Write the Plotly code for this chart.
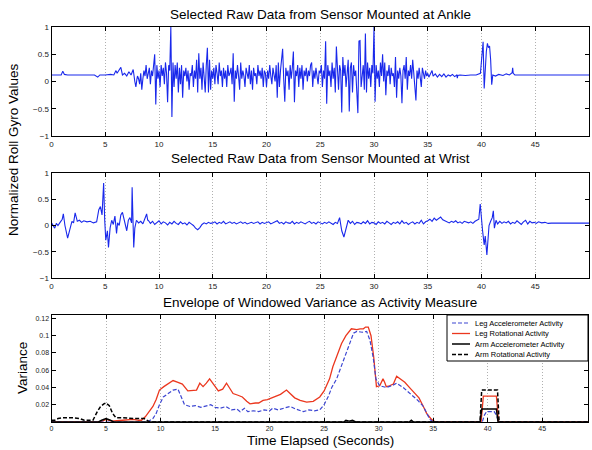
import plotly.graph_objects as go

# ---------------- DATA ----------------
# Ankle roll gyro (normalized) -- quiet start segment
ankle_t_a = [0, 0.5, 0.9, 1.05, 1.2, 1.5, 2.0, 2.5, 3.0, 3.5, 4.0, 4.3, 4.5, 5.0, 5.5,
             5.8, 6.0, 6.1, 6.3, 6.45, 6.6, 6.8, 7.0, 7.2, 7.4, 7.6, 7.75, 7.85, 7.95]
ankle_v_a = [0.12, 0.12, 0.12, 0.19, 0.13, 0.12, 0.12, 0.11, 0.12, 0.11, 0.12, 0.08, 0.12, 0.12, 0.13,
             0.12, 0.20, 0.15, 0.22, 0.26, 0.12, 0.15, 0.10, 0.18, 0.12, 0.22, 0.00, -0.10, 0.05]
# active segment, sampled every 0.1 s starting at 8.0 s
ankle_start_b = 8.0
ankle_step_b = 0.1
ankle_v_b = [
    0.10, 0.05, -0.05, 0.15, -0.15, 0.05, 0.20, 0.10, 0.30, 0.05,
    0.15, 0.25, -0.05, 0.20, 0.10, 0.35, 0.50, -0.42, 0.30, 0.05,
    0.20, -0.10, 0.30, 0.10, 0.25, -0.05, 0.35, 0.15, -0.38, 0.30,
    0.20, 1.00, -0.65, 0.35, -0.10, 0.30, 0.05, 0.35, -0.20, 0.25,
    -0.05, 0.30, -0.30, 0.20, 0.10, 0.25, 0.00, 0.20, -0.15, 0.15,
    0.10, 0.30, -0.10, 0.20, 0.05, 0.40, -0.20, 0.52, 0.05, 0.25,
    -0.15, 0.35, 0.10, -0.20, 0.30, 0.62, -0.20, 0.40, -0.15, 0.20,
    0.05, 0.25, -0.05, 0.30, 0.15, -0.05, 0.35, 0.10, 0.20, -0.10,
    0.25, 0.05, 0.20, -0.10, 0.30, 0.10, 0.15, 0.25, -0.05, 0.52,
    -0.37, 0.20, 0.05, 0.30, 0.10, -0.15, 0.35, 0.05, 0.20, 0.10,
    -0.10, 0.25, 0.15, 0.05, 0.30, -0.05, 0.20, -0.15, 0.25, 0.10,
    0.15, -0.05, 0.30, 0.10, 0.20, 0.05, 0.25, -0.10, 0.20, 0.15,
    -0.10, 0.20, 0.05, 0.30, 0.10, -0.05, 0.25, 0.15, 0.00, 0.30,
    -0.30, 0.35, -0.10, 0.20, 0.40, 0.60, 0.05, -0.37, 0.25, 0.10,
    0.20, -0.15, 0.30, 0.05, 0.25, 0.55, -0.38, 0.20, 0.10, 0.30,
    -0.10, 0.25, 0.05, 0.30, -0.15, 0.20, 0.10, 0.25, 0.00, 0.20,
    0.10, 0.30, 0.35, -0.10, 0.20, 0.05, 0.25, 0.10, -0.05, 0.20,
    0.15, 0.30, -0.10, 0.20, 0.05, 0.74, -0.41, 0.30, 0.10, 0.20,
    -0.10, 0.35, 0.05, 0.25, -0.20, 0.64, 0.10, -0.15, 0.30, 0.20,
    -0.57, 0.45, 0.10, 0.30, -0.10, 0.20, 0.40, -0.55, 0.25, 0.35,
    -0.20, 0.30, 0.10, 0.20, -0.30, -0.58, 0.74, 0.75, -0.10, 0.20,
    0.30, -0.15, 0.88, -0.20, 0.35, 0.05, 0.25, -0.10, 0.30, 0.15,
    1.00, -0.37, 0.30, 0.05, 0.20, -0.10, 0.35, 0.10, 0.50, 0.00,
    0.35, -0.25, 0.20, 0.10, 0.30, -0.05, 0.25, 0.10, 0.15, -0.10,
    0.45, -0.30, 0.20, 0.05, 0.25, 0.10, -0.40, 0.20, 0.30, 0.05,
    0.45, -0.15, 0.20, 0.10, 0.30, 0.05, 0.40, 0.15, -0.05, -0.35,
    0.20, 0.05, 0.25, 0.10, -0.10, 0.25, 0.15, 0.05, 0.20, 0.10,
    0.15]
ankle_t_c = [35.1, 35.3, 35.4, 35.5, 35.7, 35.9, 36.1, 36.3, 36.5, 36.7, 36.9, 37.1, 37.3, 37.5, 37.7,
             37.75, 37.8, 38.0, 38.5, 39.0, 39.5, 39.9, 40.05, 40.15, 40.25, 40.35, 40.45, 40.55, 40.65, 40.75,
             40.85, 40.95, 41.05, 41.3, 41.6, 42.0, 42.3, 42.6, 42.85, 42.9, 42.95, 43.1, 43.5, 44.0, 50.0]
ankle_v_c = [0.08, 0.16, 0.20, 0.10, 0.14, 0.08, 0.13, 0.09, 0.14, 0.08, 0.12, 0.10, 0.13, 0.09, 0.12,
             0.06, 0.11, 0.12, 0.11, 0.12, 0.12, 0.15, 0.55, 0.73, -0.13, 0.30, 0.55, 0.70, 0.62, 0.65,
             0.40, -0.06, 0.12, 0.10, 0.13, 0.11, 0.14, 0.12, 0.16, 0.25, 0.15, 0.12, 0.12, 0.12, 0.12]

# Wrist roll gyro (normalized)
wrist_t_a = [0.0, 0.15, 0.3, 0.45, 0.6, 0.8, 1.0, 1.1, 1.25, 1.5, 1.7, 1.9, 2.05, 2.2, 2.4,
             2.6, 2.8, 3.0, 3.3, 3.6, 3.9, 4.2, 4.4, 4.55, 4.7, 4.85, 4.95, 5.05, 5.2, 5.3,
             5.45, 5.6, 5.75, 5.9, 6.05, 6.15, 6.3, 6.45, 6.6, 6.8, 7.0, 7.15, 7.3, 7.45, 7.5,
             7.58, 7.65, 7.75, 7.9, 8.1, 8.3, 8.5, 8.7, 8.85, 8.95]
wrist_v_a = [0.05, 0.00, -0.05, 0.04, 0.00, 0.06, 0.12, 0.22, 0.00, -0.24, -0.05, 0.08, 0.05, 0.24, 0.08,
             0.10, 0.06, 0.09, 0.07, 0.08, 0.05, 0.07, 0.30, 0.36, 0.20, 0.81, 0.10, -0.28, -0.10, -0.42,
             -0.05, 0.10, 0.02, 0.18, -0.15, 0.05, 0.00, 0.20, 0.25, 0.05, -0.10, 0.10, 0.15, 0.05, 0.73,
             0.10, -0.42, -0.05, 0.10, 0.05, 0.08, 0.03, 0.12, 0.22, 0.10]
wrist_start_b = 9.0
wrist_step_b = 0.2
wrist_v_b = [
    0.10, 0.04, 0.08, 0.02, 0.06, 0.09, 0.03, 0.07, 0.05, 0.01,
    0.06, 0.03, 0.08, 0.04, 0.02, 0.07, 0.03, 0.05, 0.01, 0.06,
    0.03, 0.00, -0.05, -0.08, -0.04, 0.02, 0.05, 0.03, 0.06, 0.04,
    0.05, 0.07, 0.03, 0.06, 0.04, 0.08, 0.03, 0.05, 0.07, 0.04,
    0.06, 0.03, 0.05, 0.07, 0.04, 0.06, 0.03, 0.05, 0.06, 0.04,
    0.05, 0.07, 0.03, 0.06, 0.04, 0.05, 0.07, 0.03, 0.05, 0.06,
    0.09, 0.04, 0.06, 0.03, 0.07, 0.05, 0.04, 0.08, 0.03, 0.06,
    0.04, 0.07, 0.05, 0.03, 0.06, 0.08, 0.04, 0.06, 0.03, 0.07,
    0.05, 0.03, 0.06, 0.04, 0.07, 0.05, 0.02, 0.06, 0.04, 0.15,
    -0.10, -0.22, -0.05, 0.10, 0.04, 0.08, 0.02, 0.06, 0.05, 0.03,
    0.07, 0.04, 0.09, 0.03, 0.06, 0.05, 0.02, 0.07, 0.04, 0.06,
    0.03, 0.08, 0.05, 0.02, 0.06, 0.04, 0.07, 0.03, 0.09, 0.04,
    0.06, 0.02, 0.05, 0.07, 0.03, 0.06, 0.04, 0.10, 0.03, 0.07,
    0.09, 0.12, 0.08, 0.14, 0.10, 0.13, 0.16, 0.11, 0.09, 0.07,
    0.05, 0.08, 0.06, 0.09, 0.05, 0.07, 0.04, 0.08, 0.06, 0.05,
    0.07, 0.04, 0.08, 0.10]
wrist_t_c = [39.75, 39.88, 40.0, 40.1, 40.25, 40.35, 40.5, 40.6, 40.7, 40.85, 41.0, 41.1, 41.2, 41.35, 41.5,
             41.7, 41.9, 42.1, 42.3, 42.5, 42.7, 42.9, 43.1, 43.3, 43.5, 43.7, 43.9, 44.1, 44.3, 44.5,
             44.7, 44.9, 45.1, 45.3, 45.6, 45.9, 46.2, 46.5, 50.0]
wrist_v_c = [0.12, 0.41, 0.05, -0.10, -0.37, -0.20, -0.56, -0.25, 0.00, 0.08, 0.15, 0.28, -0.05, 0.10, 0.03,
             0.08, 0.04, 0.07, 0.05, 0.08, 0.03, 0.06, 0.04, 0.09, 0.05, 0.02, 0.07, 0.10, 0.03, 0.08,
             0.05, 0.06, 0.04, 0.07, 0.05, 0.06, 0.04, 0.045, 0.045]

# Envelope of windowed variance
leg_rot_t = [0, 4.5, 5.0, 5.5, 6.5, 7.5, 8.0, 8.25, 8.6, 9.0, 9.3, 9.6, 9.9, 10.3, 10.7,
             11.15, 11.6, 12.0, 12.5, 13.0, 13.3, 13.6, 13.9, 14.2, 14.5, 14.9, 15.3, 15.7, 16.05, 16.3,
             16.65, 17.1, 17.5, 17.9, 18.2, 18.7, 19.0, 19.4, 19.8, 20.2, 20.65, 21.0, 21.55, 21.9, 22.3,
             22.8, 23.4, 24.0, 24.6, 25.0, 25.2, 25.5, 25.8, 26.2, 26.6, 27.0, 27.5, 28.0, 28.3, 28.6,
             28.8, 29.05, 29.3, 29.55, 29.8, 30.1, 30.4, 30.55, 30.7, 31.0, 31.35, 31.65, 32.0, 32.4, 32.9,
             33.3, 33.7, 34.1, 34.4, 34.85, 35.2, 39.4, 39.6, 39.75, 40.6, 40.8, 41.0, 49.2]
leg_rot_v = [0.0, 0.0, 0.003, 0.001, 0.002, 0.003, 0.002, 0.002, 0.006, 0.013, 0.018, 0.026, 0.037, 0.041, 0.044,
             0.048, 0.046, 0.044, 0.036, 0.037, 0.037, 0.045, 0.041, 0.045, 0.050, 0.043, 0.036, 0.038, 0.045, 0.040,
             0.033, 0.031, 0.029, 0.024, 0.021, 0.022, 0.022, 0.025, 0.026, 0.028, 0.030, 0.032, 0.037, 0.033, 0.028,
             0.025, 0.023, 0.024, 0.029, 0.036, 0.041, 0.050, 0.064, 0.078, 0.091, 0.100, 0.108, 0.107, 0.108, 0.108,
             0.110, 0.110, 0.100, 0.075, 0.041, 0.042, 0.050, 0.046, 0.041, 0.042, 0.044, 0.053, 0.050, 0.046, 0.039,
             0.034, 0.028, 0.018, 0.010, 0.003, 0.0, 0.0, 0.030, 0.030, 0.030, 0.030, 0.0, 0.0]
leg_acc_t = [0, 8.8, 9.3, 9.6, 9.9, 10.25, 10.7, 11.15, 11.6, 11.85, 12.2, 12.7, 13.2, 13.7, 14.2,
             14.6, 15.0, 15.5, 16.0, 16.5, 17.0, 17.3, 17.7, 18.0, 18.5, 19.0, 19.5, 20.0, 20.3, 20.8,
             21.3, 21.9, 22.4, 23.1, 23.6, 24.1, 24.6, 25.0, 25.4, 25.7, 26.15, 26.75, 27.35, 27.7, 28.0,
             28.5, 28.9, 29.2, 29.5, 29.75, 30.1, 30.7, 31.2, 31.65, 32.25, 33.0, 33.6, 34.1, 34.7, 35.0,
             39.5, 39.7, 39.9, 40.6, 40.8, 41.0, 49.2]
leg_acc_v = [0, 0, 0.004, 0.010, 0.020, 0.029, 0.033, 0.037, 0.038, 0.030, 0.020, 0.018, 0.019, 0.017, 0.019,
             0.020, 0.017, 0.016, 0.018, 0.014, 0.015, 0.012, 0.016, 0.012, 0.013, 0.012, 0.014, 0.013, 0.016, 0.014,
             0.016, 0.018, 0.015, 0.012, 0.014, 0.013, 0.014, 0.020, 0.030, 0.040, 0.050, 0.070, 0.090, 0.103, 0.105,
             0.104, 0.105, 0.095, 0.075, 0.050, 0.042, 0.040, 0.042, 0.045, 0.040, 0.032, 0.025, 0.018, 0.003, 0.0,
             0.0, 0.008, 0.012, 0.012, 0.008, 0.0, 0.0]
arm_acc_t = [0, 4.3, 4.6, 5.0, 5.4, 5.7, 8.0, 26.8, 27.0, 27.3, 27.6, 27.9, 32.8, 33.0, 33.2,
             39.3, 39.45, 40.8, 40.95, 49.2]
arm_acc_v = [0, 0, 0.002, 0.004, 0.002, 0, 0, 0, 0.002, 0.001, 0.002, 0, 0, 0.002, 0,
             0, 0.015, 0.015, 0, 0]
arm_rot_t = [0, 0.3, 0.6, 1.0, 2.0, 2.6, 3.0, 3.8, 4.2, 4.5, 4.8, 5.0, 5.3, 5.6, 5.9,
             6.5, 7.5, 8.5, 9.0, 39.3, 39.45, 40.9, 41.05, 49.2]
arm_rot_v = [0.002, 0.002, 0.004, 0.005, 0.005, 0.004, 0.002, 0.002, 0.012, 0.018, 0.021, 0.022, 0.019, 0.010, 0.005,
             0.005, 0.004, 0.004, 0.0, 0.0, 0.037, 0.037, 0.0, 0.0]

legend_labels = ["Leg Accelerometer Activity", "Leg Rotational Activity",
                 "Arm Accelerometer Activity", "Arm Rotational Activity"]
titles = ["Selected Raw Data from Sensor Mounted at Ankle",
          "Selected Raw Data from Sensor Mounted at Wrist",
          "Envelope of Windowed Variance as Activity Measure"]
x_ticks_top = [0, 5, 10, 15, 20, 25, 30, 35, 40, 45, 50]
x_ticks_bottom = [0, 5, 10, 15, 20, 25, 30, 35, 40, 45]
y_ticks_raw = [-1, -0.5, 0, 0.5, 1]
y_ticklabels_raw = ["\u22121", "\u22120.5", "0", "0.5", "1"]
y_ticks_var = [0.02, 0.04, 0.06, 0.08, 0.1, 0.12]
y_ticklabels_var = ["0.02", "0.04", "0.06", "0.08", "0.1", "0.12"]

# ---------------- BUILD ----------------
ankle_t = ankle_t_a + [round(ankle_start_b + ankle_step_b * i, 2) for i in range(len(ankle_v_b))] + ankle_t_c
ankle_v = ankle_v_a + ankle_v_b + ankle_v_c
wrist_t = wrist_t_a + [round(wrist_start_b + wrist_step_b * i, 2) for i in range(len(wrist_v_b))] + wrist_t_c
wrist_v = wrist_v_a + wrist_v_b + wrist_v_c

W, H = 592, 450
def fx(p):
    return p / W
def fy(p):
    return 1 - p / H

FONT = "Liberation Sans, Arial, Helvetica, sans-serif"
BLUE = "rgb(25,40,235)"
RED = "rgb(235,55,30)"
VBLUE = "rgb(60,70,210)"

fig = go.Figure()
fig.add_trace(go.Scatter(x=ankle_t, y=ankle_v, mode="lines", line=dict(color=BLUE, width=1.1),
                         xaxis="x", yaxis="y", showlegend=False))
fig.add_trace(go.Scatter(x=wrist_t, y=wrist_v, mode="lines", line=dict(color=BLUE, width=1.1),
                         xaxis="x2", yaxis="y2", showlegend=False))
fig.add_trace(go.Scatter(x=leg_rot_t, y=leg_rot_v, mode="lines", line=dict(color=RED, width=1.3),
                         xaxis="x3", yaxis="y3", name=legend_labels[1], showlegend=False))
fig.add_trace(go.Scatter(x=leg_acc_t, y=leg_acc_v, mode="lines", line=dict(color=VBLUE, width=1.2, dash="4px,2px"),
                         xaxis="x3", yaxis="y3", name=legend_labels[0], showlegend=False))
fig.add_trace(go.Scatter(x=arm_acc_t, y=arm_acc_v, mode="lines", line=dict(color="black", width=1.5),
                         xaxis="x3", yaxis="y3", name=legend_labels[2], showlegend=False))
fig.add_trace(go.Scatter(x=arm_rot_t, y=arm_rot_v, mode="lines", line=dict(color="black", width=1.5, dash="4px,2px"),
                         xaxis="x3", yaxis="y3", name=legend_labels[3], showlegend=False))

xdom = [fx(51.5), fx(589)]
common_x = dict(ticks="inside", ticklen=4, tickcolor="black", showline=True, mirror="ticks",
                linecolor="black", linewidth=1, showgrid=True, gridcolor="#b0b0b0", griddash="1px,2px",
                gridwidth=1, zeroline=False, automargin=False,
                tickfont=dict(size=8, color="#222", family=FONT))
common_y = dict(ticks="inside", ticklen=4, tickcolor="black", showline=True, mirror="ticks",
                linecolor="black", linewidth=1, showgrid=False, zeroline=False, automargin=False,
                tickfont=dict(size=8, color="#222", family=FONT))

fig.update_layout(
    width=W, height=H, margin=dict(l=0, r=0, t=0, b=0, autoexpand=False),
    paper_bgcolor="white", plot_bgcolor="white",
    font=dict(family=FONT, color="black"),
    xaxis=dict(domain=xdom, range=[0, 50], tickvals=x_ticks_top, anchor="y", **common_x),
    yaxis=dict(domain=[fy(136), fy(27)], range=[-1, 1], tickvals=y_ticks_raw, ticktext=y_ticklabels_raw,
               anchor="x", **common_y),
    xaxis2=dict(domain=xdom, range=[0, 50], tickvals=x_ticks_top, anchor="y2", **common_x),
    yaxis2=dict(domain=[fy(278), fy(173)], range=[-1, 1], tickvals=y_ticks_raw, ticktext=y_ticklabels_raw,
                anchor="x2", **common_y),
    xaxis3=dict(domain=[fx(51.5), fx(588)], range=[0, 49.2], tickvals=x_ticks_bottom, anchor="y3",
                **{**common_x, "tickfont": dict(size=7, color="#222", family=FONT)}),
    yaxis3=dict(domain=[fy(422), fy(315)], range=[0, 0.124], tickvals=y_ticks_var, ticktext=y_ticklabels_var,
                anchor="x3", **{**common_y, "tickfont": dict(size=7, color="#222", family=FONT)}),
)

annotations = []
for title, yp in zip(titles, [15, 158, 302]):
    annotations.append(dict(text=title, x=fx(320), y=fy(yp), xref="paper", yref="paper",
                            showarrow=False, xanchor="center", yanchor="middle",
                            font=dict(size=13.5, family=FONT, color="black")))
annotations.append(dict(text="Normalized Roll Gyro Values", x=fx(14), y=fy(150), xref="paper", yref="paper",
                        showarrow=False, textangle=-90, xanchor="center", yanchor="middle",
                        font=dict(size=13.5, family=FONT, color="black")))
annotations.append(dict(text="Variance", x=fx(22), y=fy(368), xref="paper", yref="paper",
                        showarrow=False, textangle=-90, xanchor="center", yanchor="middle",
                        font=dict(size=13.5, family=FONT, color="black")))
annotations.append(dict(text="Time Elapsed (Seconds)", x=fx(320), y=fy(440), xref="paper", yref="paper",
                        showarrow=False, xanchor="center", yanchor="middle",
                        font=dict(size=13.5, family=FONT, color="black")))

# manual compact legend
shapes = [dict(type="rect", xref="paper", yref="paper", x0=fx(447), x1=fx(588), y0=fy(361), y1=fy(315),
               line=dict(color="black", width=1), fillcolor="white", layer="above")]
leg_styles = [(VBLUE, "4px,2px", 1.2), (RED, "solid", 1.3), ("black", "solid", 1.5), ("black", "4px,2px", 1.5)]
for i, (lab, (col, dash, wd)) in enumerate(zip(legend_labels, leg_styles)):
    yy = 323 + i * 10.5
    shapes.append(dict(type="line", xref="paper", yref="paper", x0=fx(452), x1=fx(470), y0=fy(yy), y1=fy(yy),
                       line=dict(color=col, width=wd, dash=dash), layer="above"))
    annotations.append(dict(text=lab, x=fx(473), y=fy(yy), xref="paper", yref="paper", showarrow=False,
                            xanchor="left", yanchor="middle", font=dict(size=7.5, family=FONT, color="black")))

fig.update_layout(annotations=annotations, shapes=shapes)
fig.write_html("out.html", config={"displayModeBar": False},
               post_script="document.body.style.margin='0px';document.body.style.overflow='hidden';")
